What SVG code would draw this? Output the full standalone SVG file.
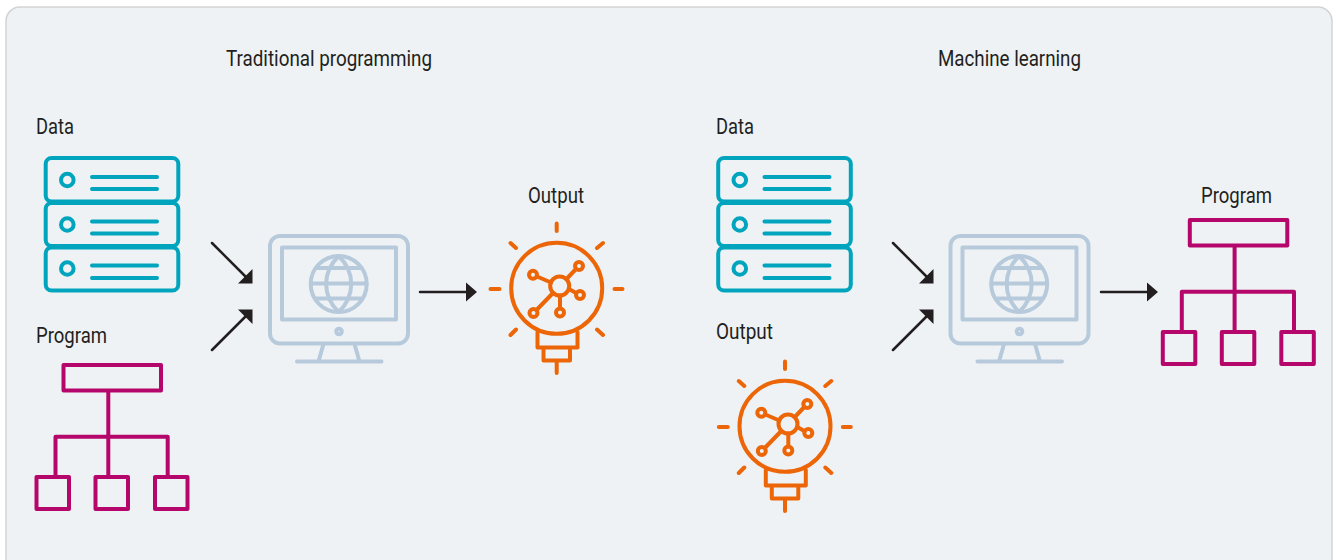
<svg xmlns="http://www.w3.org/2000/svg" width="1336" height="560" viewBox="0 0 1336 560">
<style>
.t{font-family:"Roboto","Liberation Sans",sans-serif;font-size:21.5px;fill:#231f20}
.s{fill:none;stroke:#00a5bd;stroke-width:4;stroke-linecap:round;stroke-linejoin:round}
.p{fill:none;stroke:#b5066b;stroke-width:4;stroke-linejoin:round}
.m{fill:none;stroke:#b7cadb;stroke-width:4;stroke-linecap:round;stroke-linejoin:round}
.b{fill:none;stroke:#ec6608;stroke-width:4;stroke-linecap:round;stroke-linejoin:round}
.c{fill:none;stroke:#231f20;stroke-width:2.5;stroke-linecap:round}
.h{fill:#231f20}
</style>
<defs>
<g id="server" class="s">
<rect x="45.700" y="158" width="132.600" height="43.500" rx="6"/>
<rect x="45.700" y="203" width="132.600" height="43" rx="6"/>
<rect x="45.700" y="247.500" width="132.600" height="43" rx="6"/>
<circle cx="67.300" cy="180" r="6.300"/><circle cx="67.300" cy="224.500" r="6.300"/><circle cx="67.300" cy="268.500" r="6.300"/>
<path d="M92 177H157M92 189H157M92 221.500H157M92 233.500H157M92 265.500H157M92 278H157"/>
</g>
<g id="tree" class="p">
<rect x="63.500" y="365" width="97.500" height="25.500"/>
<path d="M108.300 390.500V475M55.500 475V436.700H167.700V475"/>
<rect x="36.500" y="477" width="32.500" height="32"/><rect x="95.500" y="477" width="32.500" height="32"/><rect x="155" y="477" width="32.500" height="32"/>
</g>
<g id="monitor" class="m">
<rect x="270" y="236" width="138" height="107.500" rx="10"/>
<rect x="282" y="247.500" width="114" height="72"/>
<circle cx="338.700" cy="284" r="28"/>
<path d="M338.700 256C322 272 322 296 338.700 312C355.400 296 355.400 272 338.700 256Z"/>
<path d="M311 283.500H366.500M317 268H360.500M317 298.500H360.500"/>
<circle cx="339" cy="331.500" r="2.800"/>
<path d="M323.500 344L318.500 361.500M354.500 344L359.500 361.500M297 361.500H381.500"/>
</g>
<g id="bulb" class="b">
<circle cx="556.700" cy="288.300" r="45.500"/>
<path d="M556.700 223.500V231M490.500 289H499.500M614.500 289H622.500M510.500 243L516 248M603 243L597 248M510.500 335L516 329.500M603 335L597 329.500"/>
<path d="M537.500 332V347.500H577.500V332M543.500 347.500V360.500H570V347.500M556.700 360.500V373"/>
<circle cx="559.700" cy="286" r="9.500"/>
<circle cx="533" cy="274.700" r="4"/><circle cx="579" cy="266" r="4"/><circle cx="580" cy="295" r="4"/><circle cx="533.500" cy="313" r="4"/><circle cx="560" cy="312.500" r="4"/>
<path d="M537 276.500L551 282.500M566.500 279L576 269M569 289L576 293M553 293L536.500 310M560 295.500V308.500"/>
</g>
</defs>
<rect id="panel" x="6" y="7" width="1326" height="570" rx="14" fill="#eef2f5" stroke="#d3d3d3" stroke-width="1.500"/>
<g id="titles">
<text class="t" x="226" y="66" textLength="206" lengthAdjust="spacingAndGlyphs">Traditional programming</text>
<text class="t" x="938" y="66" textLength="143" lengthAdjust="spacingAndGlyphs">Machine learning</text>
</g>
<g id="connectors">
<path class="c" d="M212 243L246 277M212 350L246 316M420 292H466M893 243L927 277M893 350L927 316M1101 292H1147"/>
<path class="h" d="M252.500 283.500H238L252.500 269ZM252.500 309.500H238L252.500 324ZM477 292L466 282.500V301.500ZM933.500 283.500H919L933.500 269ZM933.500 309.500H919L933.500 324ZM1158 292L1147 282.500V301.500Z"/>
</g>
<g id="data-1"><text class="t" x="36" y="134" textLength="38" lengthAdjust="spacingAndGlyphs">Data</text><use href="#server"/></g>
<g id="program-1"><text class="t" x="36" y="343" textLength="71" lengthAdjust="spacingAndGlyphs">Program</text><use href="#tree"/></g>
<g id="computer-1"><use href="#monitor"/></g>
<g id="output-1"><text class="t" x="528" y="203" textLength="56" lengthAdjust="spacingAndGlyphs">Output</text><use href="#bulb"/></g>
<g id="data-2"><text class="t" x="716" y="134" textLength="38" lengthAdjust="spacingAndGlyphs">Data</text><use href="#server" x="672.500"/></g>
<g id="output-2"><text class="t" x="716" y="339" textLength="57" lengthAdjust="spacingAndGlyphs">Output</text><use href="#bulb" x="228.300" y="138"/></g>
<g id="computer-2"><use href="#monitor" x="680.500"/></g>
<g id="program-2"><text class="t" x="1201" y="203" textLength="71" lengthAdjust="spacingAndGlyphs">Program</text><use href="#tree" x="1126.300" y="-145"/></g>
</svg>
